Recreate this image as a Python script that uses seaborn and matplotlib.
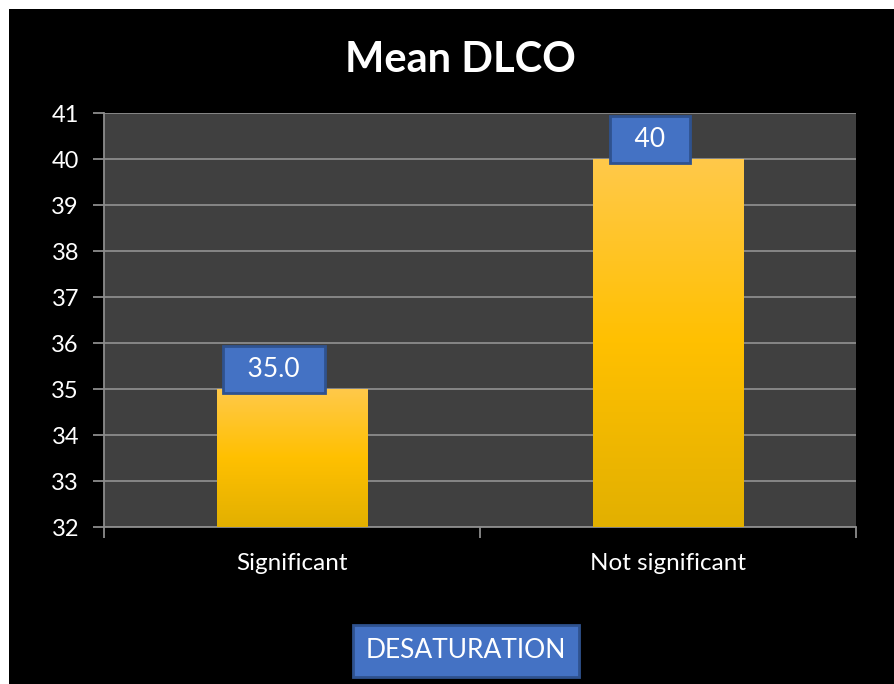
import matplotlib
matplotlib.use("Agg")
import matplotlib.pyplot as plt
from matplotlib.patches import Rectangle
from matplotlib.colors import LinearSegmentedColormap
import seaborn as sns
import numpy as np
import pandas as pd

# ---------- DATA ----------
categories = ["Significant", "Not significant"]
mean_dlco = [35.0, 40.0]
value_labels = ["35.0", "40"]
y_ticks = list(range(32, 42))

df = pd.DataFrame({"group": categories, "dlco": mean_dlco})

# ---------- STYLE ----------
sns.set_style("dark")
plt.rcParams["font.family"] = ["Lato", "DejaVu Sans"]

fig = plt.figure(figsize=(8.95, 6.84), dpi=100, facecolor="white")
# black slide background, white strip on top and left
fig.patches.append(Rectangle((9 / 895, 0), 1, 1 - 9 / 684, transform=fig.transFigure,
                             facecolor="black", edgecolor="none", zorder=-5))

ax = fig.add_axes([104 / 895, 1 - 527 / 684, 752 / 895, 414 / 684])
ax.set_facecolor("#404040")

sns.barplot(data=df, x="group", y="dlco", width=0.4, color="#FFC000",
            saturation=1, linewidth=0, ax=ax, zorder=3)

# gradient fill on bars
grad = LinearSegmentedColormap.from_list("gold", ["#E2B000", "#FFC000", "#FFC94A"])
for patch in ax.patches:
    x0 = patch.get_x()
    w = patch.get_width()
    h = patch.get_height()
    img = ax.imshow(np.linspace(0, 1, 256).reshape(-1, 1), cmap=grad, origin="lower",
                    extent=[x0, x0 + w, 32, h], aspect="auto", zorder=4)
    img.set_clip_path(patch)

ax.set_xlim(-0.5, 1.5)
ax.set_ylim(32, 41)
ax.set_yticks(y_ticks)
ax.grid(axis="y", color="#8C8C8C", linewidth=1.3, zorder=1)
ax.grid(axis="x", visible=False)
ax.set_axisbelow(True)

for side in ["top", "right"]:
    ax.spines[side].set_visible(False)
for side in ["left", "bottom"]:
    ax.spines[side].set_color("#8C8C8C")
    ax.spines[side].set_linewidth(1.3)

ax.tick_params(axis="y", colors="#8C8C8C", labelcolor="white", labelsize=17,
               length=8, width=1.3, pad=10, left=True)
ax.tick_params(axis="x", which="major", length=0, labelcolor="white", labelsize=17.5, pad=19)
ax.set_xticks([-0.5, 0.5, 1.5], minor=True)
ax.tick_params(axis="x", which="minor", bottom=True, length=8, width=1.3, colors="#8C8C8C")
ax.set_xlabel("")
ax.set_ylabel("")

# data labels in blue boxes
for i, (v, lab) in enumerate(zip(mean_dlco, value_labels)):
    ax.annotate(f"  {lab}  ", xy=(i, v), xytext=(-13, 14), textcoords="offset points",
                ha="center", va="center", color="white", fontsize=19, zorder=6,
                bbox=dict(boxstyle="square,pad=0.42", facecolor="#4472C4",
                          edgecolor="#2F528F", linewidth=2))

fig.text(460 / 895, 1 - 60 / 684, "Mean DLCO", ha="center", va="center",
         color="white", fontsize=30, fontweight="bold")

fig.text(466 / 895, 1 - 651 / 684, "DESATURATION", ha="center", va="center",
         color="white", fontsize=19,
         bbox=dict(boxstyle="square,pad=0.5", facecolor="#4472C4",
                   edgecolor="#2F528F", linewidth=2))

fig.savefig("out.png", dpi=100, facecolor=fig.get_facecolor())
